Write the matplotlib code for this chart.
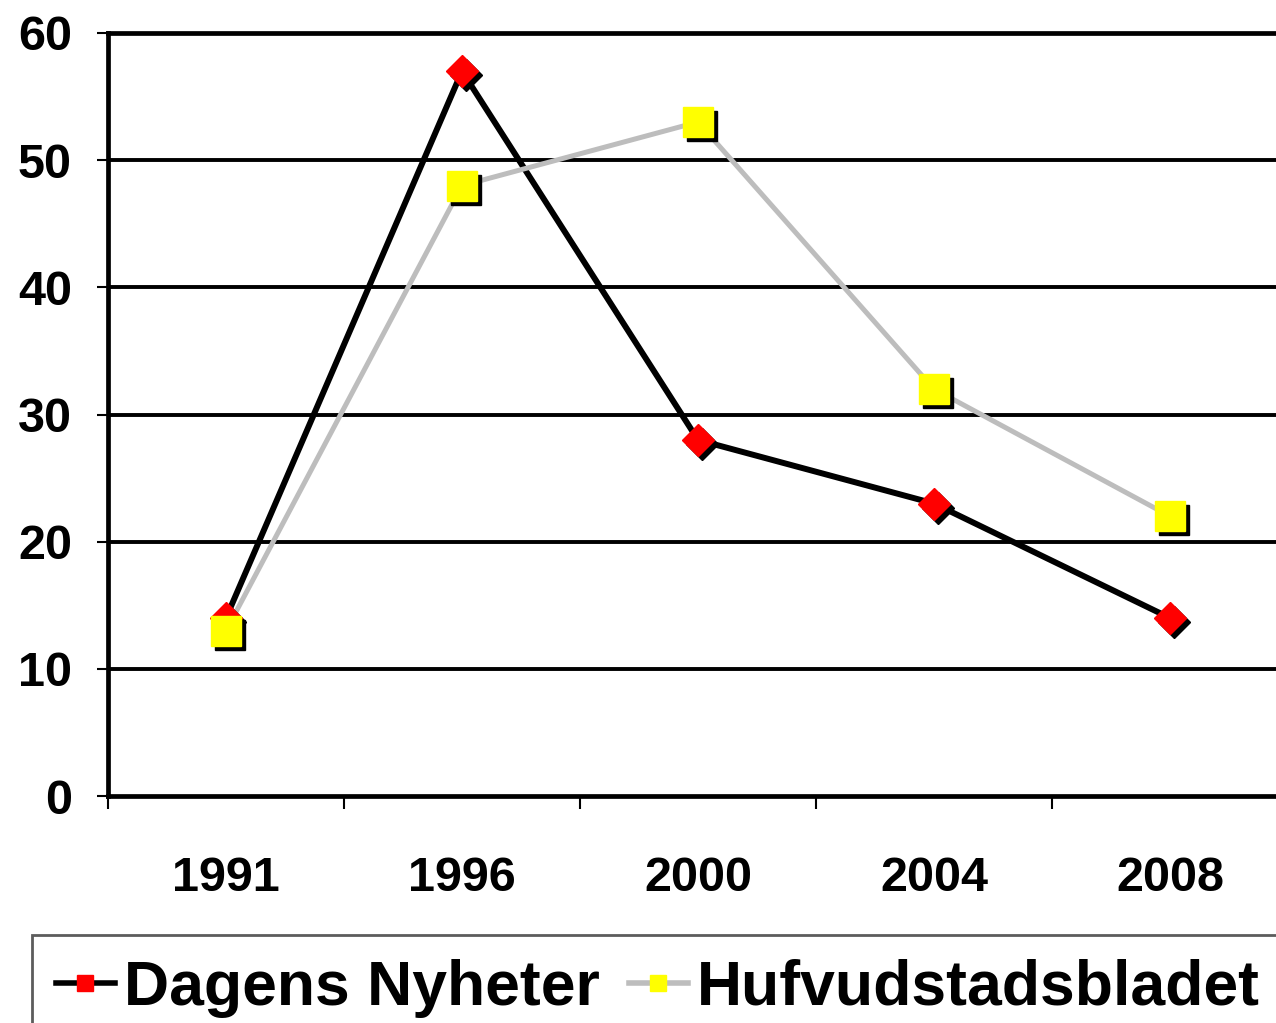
import matplotlib.pyplot as plt
import matplotlib.transforms as mtransforms
from matplotlib.lines import Line2D

# data
years = ["1991", "1996", "2000", "2004", "2008"]
dagens_nyheter = [14, 57, 28, 23, 14]
hufvudstadsbladet = [13, 48, 53, 32, 22]
y_ticks = [0, 10, 20, 30, 40, 50, 60]

plt.rcParams["font.family"] = ["Liberation Sans", "DejaVu Sans"]
plt.rcParams["font.weight"] = "bold"

fig = plt.figure(figsize=(12.76, 10.23), dpi=100)
ax = fig.add_axes([108 / 1276, 1 - 796 / 1023, 1180 / 1276, 763 / 1023])

x = list(range(len(years)))

# horizontal grid lines
for v in y_ticks[1:]:
    ax.axhline(v, color="black", linewidth=2.8, zorder=1)

# marker shadows
shadow = mtransforms.offset_copy(ax.transData, fig=fig, x=4, y=-4, units="dots")
ax.plot(x, dagens_nyheter, linestyle="none", marker="D", markersize=16,
        color="black", transform=shadow, zorder=3)
ax.plot(x, hufvudstadsbladet, linestyle="none", marker="s", markersize=21,
        color="black", transform=shadow, zorder=5)

ax.plot(x, dagens_nyheter, color="black", linewidth=4.3, zorder=2)
ax.plot(x, dagens_nyheter, linestyle="none", marker="D", markersize=16,
        markerfacecolor="#FF0000", markeredgecolor="#FF0000", zorder=4)
ax.plot(x, hufvudstadsbladet, color="#BDBDBD", linewidth=3.6, zorder=2)
ax.plot(x, hufvudstadsbladet, linestyle="none", marker="s", markersize=21,
        markerfacecolor="#FFFF00", markeredgecolor="#FFFF00", zorder=6)

ax.set_xlim(-0.5, 4.5)
ax.set_ylim(0, 60)
ax.set_yticks(y_ticks)
ax.set_xticks(x)
ax.set_xticklabels(years)
ax.set_xticks([i - 0.5 for i in range(len(years) + 1)], minor=True)

ax.tick_params(axis="y", length=8, width=1.5, labelsize=35, pad=18)
ax.tick_params(axis="x", which="major", length=0, labelsize=35, pad=43)
ax.tick_params(axis="x", which="minor", length=9, width=1.5)

for side in ["left", "bottom", "top"]:
    ax.spines[side].set_linewidth(3.4)
    ax.spines[side].set_color("black")
ax.spines["right"].set_visible(False)

for lab in ax.get_xticklabels() + ax.get_yticklabels():
    lab.set_fontweight("bold")

handles = [
    Line2D([0], [0], color="black", linewidth=4, marker="s", markersize=12,
           markerfacecolor="#FF0000", markeredgecolor="#FF0000"),
    Line2D([0], [0], color="#BDBDBD", linewidth=4, marker="s", markersize=12,
           markerfacecolor="#FFFF00", markeredgecolor="#FFFF00"),
]
leg = fig.legend(handles, ["Dagens Nyheter", "Hufvudstadsbladet"],
                 loc="upper left", bbox_to_anchor=(32 / 1276, 1 - 935 / 1023),
                 ncol=2, fontsize=45, frameon=True, fancybox=False,
                 borderaxespad=0, handlelength=0.95, handletextpad=0.15,
                 columnspacing=0.45, borderpad=0.38)
leg.get_frame().set_edgecolor("#333333")
leg.get_frame().set_linewidth(2)
for t in leg.get_texts():
    t.set_fontweight("bold")

fig.savefig("out.png", dpi=100)
